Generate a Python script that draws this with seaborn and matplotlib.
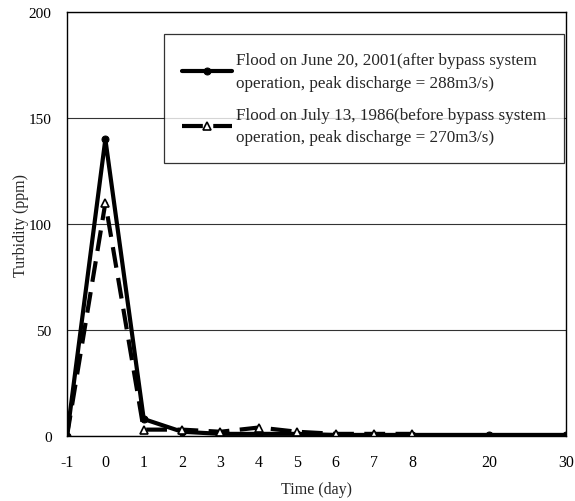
import matplotlib
matplotlib.use("Agg")
import matplotlib.pyplot as plt
import seaborn as sns
import pandas as pd

# Axis categories (blank slots are unlabeled tick positions)
axis_slots = ["-1", "0", "1", "2", "3", "4", "5", "6", "7", "8", "", "20", "", "30"]

days_2001 = ["-1", "0", "1", "2", "3", "4", "5", "6", "7", "8", "20", "30"]
turb_2001 = [0, 140, 8, 2, 1, 1, 1, 0.5, 0.5, 0.5, 0.5, 0.5]

days_1986 = ["-1", "0", "1", "2", "3", "4", "5", "6", "7", "8"]
turb_1986 = [0, 110, 3, 3, 2, 4, 2, 1, 1, 1]

label_2001 = "Flood on June 20, 2001(after bypass system\noperation, peak discharge = 288m3/s)"
label_1986 = "Flood on July 13, 1986(before bypass system\noperation, peak discharge = 270m3/s)"

sns.set_style("white")
plt.rcParams["font.family"] = ["Liberation Serif", "DejaVu Serif"]

df1 = pd.DataFrame({"slot": [axis_slots.index(d) for d in days_2001], "val": turb_2001})
df2 = pd.DataFrame({"slot": [axis_slots.index(d) for d in days_1986], "val": turb_1986})

fig = plt.figure(figsize=(5.75, 5.02), dpi=100)
ax = fig.add_axes([0.1165, 0.1295, 0.8675, 0.8445])

sns.lineplot(data=df1, x="slot", y="val", ax=ax, color="black", lw=3,
             marker="o", markersize=5, markeredgecolor="black", label=label_2001)
sns.lineplot(data=df2, x="slot", y="val", ax=ax, color="black", lw=3,
             dashes=False, linestyle=(0, (5, 2.5)), marker="^", markersize=6,
             markerfacecolor="white", markeredgecolor="black", markeredgewidth=1.2,
             label=label_1986)

ax.set_xlim(0, len(axis_slots) - 1)
ax.set_ylim(0, 200)
ax.set_xticks(range(len(axis_slots)))
ax.set_xticklabels(axis_slots)
ax.set_yticks([0, 50, 100, 150, 200])
ax.yaxis.grid(True, color="#333333", lw=0.8)
ax.set_axisbelow(True)
for s in ax.spines.values():
    s.set_color("black")
    s.set_linewidth(1.0)
ax.tick_params(axis="x", direction="in", length=4, width=0.8, colors="black", labelsize=11.5, pad=13)
ax.tick_params(axis="y", direction="in", length=3, width=0.8, colors="black", labelsize=11, pad=11)
ax.set_xlabel("Time (day)", fontsize=11.5, labelpad=8)
ax.set_ylabel("Turbidity (ppm)", fontsize=11.5, labelpad=0)

leg = ax.legend(loc="upper right", bbox_to_anchor=(0.996, 0.948), frameon=True, fancybox=False,
                fontsize=12.3, handlelength=2.9, labelspacing=0.95, borderpad=1.05,
                handletextpad=0.25, borderaxespad=0)
for t in leg.get_texts():
    t.set_linespacing(1.55)
leg.get_frame().set_edgecolor("black")
leg.get_frame().set_linewidth(0.9)

fig.savefig("out.png", dpi=100)
